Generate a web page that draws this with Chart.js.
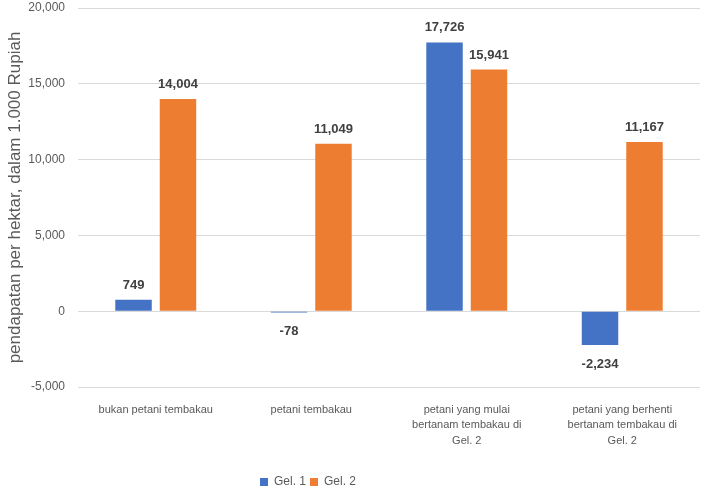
<!DOCTYPE html>
<html>
<head>
<meta charset="utf-8">
<script src="https://cdn.jsdelivr.net/npm/chart.js@4.4.1/dist/chart.umd.min.js"></script>
<style>
  html, body { margin: 0; padding: 0; background: #fff; }
  #wrap { width: 706px; height: 492px; }
</style>
</head>
<body>
<div id="wrap"><canvas id="chart"></canvas></div>
<script>
// categories and series
const categories = [
    'bukan petani tembakau',
    'petani tembakau',
    ['petani yang mulai', 'bertanam tembakau di', 'Gel. 2'],
    ['petani yang berhenti', 'bertanam tembakau di', 'Gel. 2']
];
const gel1 = [749, -78, 17726, -2234];
const gel2 = [14004, 11049, 15941, 11167];
const yTicks = [-5000, 0, 5000, 10000, 15000, 20000];

const FONT = "'Liberation Sans', Arial, sans-serif";
const TEXT = '#595959';

// value labels above / below each bar
const valueLabels = {
    id: 'valueLabels',
    afterLayout(chart) {
        // legend sits a bit left of centre in the original
        if (chart.legend) {
            chart.legend.left -= 42;
            chart.legend.right -= 42;
        }
    },
    afterDatasetsDraw(chart) {
        const ctx = chart.ctx;
        ctx.save();
        ctx.font = 'bold 13px ' + FONT;
        ctx.fillStyle = '#404040';
        ctx.textAlign = 'center';
        chart.data.datasets.forEach((ds, i) => {
            chart.getDatasetMeta(i).data.forEach((bar, j) => {
                const v = ds.data[j];
                const txt = v.toLocaleString('en-US');
                if (v >= 0) {
                    ctx.textBaseline = 'alphabetic';
                    ctx.fillText(txt, bar.x, bar.y - 11);
                } else {
                    ctx.textBaseline = 'top';
                    ctx.fillText(txt, bar.x, bar.y + 13);
                }
            });
        });
        ctx.restore();
    }
};

new Chart(document.getElementById('chart'), {
    type: 'bar',
    data: {
        labels: categories,
        datasets: [
            { label: 'Gel. 1', data: gel1, backgroundColor: '#4472C4', borderWidth: 0 },
            { label: 'Gel. 2', data: gel2, backgroundColor: '#ED7D31', borderWidth: 0 }
        ]
    },
    options: {
        responsive: true,
        maintainAspectRatio: false,
        animation: false,
        categoryPercentage: 0.572,
        barPercentage: 0.82,
        layout: { padding: { top: 8, right: 6, left: 0, bottom: -6 } },
        plugins: {
            legend: {
                position: 'bottom',
                labels: {
                    boxWidth: 8, boxHeight: 8, padding: 4,
                    color: TEXT, font: { family: FONT, size: 12 }
                }
            },
            tooltip: { enabled: false }
        },
        scales: {
            x: {
                grid: { display: false },
                border: { display: false },
                afterFit(axis) { axis.height = 85; },
                ticks: {
                    color: TEXT, maxRotation: 0, autoSkip: false, padding: 7,
                    font: { family: FONT, size: 11, lineHeight: 1.4 }
                }
            },
            y: {
                min: yTicks[0],
                max: yTicks[yTicks.length - 1],
                afterBuildTicks(axis) { axis.ticks = yTicks.map(v => ({ value: v })); },
                afterFit(axis) {
                    axis.width = 78;
                    axis.paddingTop = 0;
                    axis.paddingBottom = 0;
                },
                grid: { color: '#d9d9d9', lineWidth: 1, drawTicks: false },
                border: { display: false },
                ticks: {
                    color: TEXT, padding: 13,
                    font: { family: FONT, size: 12 },
                    callback: v => v.toLocaleString('en-US')
                },
                title: {
                    display: true,
                    text: 'pendapatan per hektar, dalam 1.000 Rupiah',
                    color: TEXT,
                    font: { family: FONT, size: 17 },
                    padding: { top: 5, bottom: 0 }
                }
            }
        }
    },
    plugins: [valueLabels]
});
</script>
</body>
</html>
